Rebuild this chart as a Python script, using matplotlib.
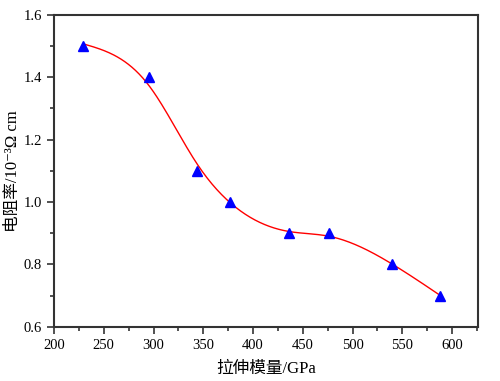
import numpy as np
import matplotlib.pyplot as plt
from matplotlib.ticker import MultipleLocator

plt.rcParams['font.family'] = ['Liberation Serif', 'Noto Sans CJK SC', 'DejaVu Serif']

# measured points
modulus = [229, 295, 344, 377, 436, 476, 540, 588]
resistivity = [1.5, 1.4, 1.1, 1.0, 0.9, 0.9, 0.8, 0.7]


# cubic smoothing spline (Reinsch), used for the red fit line
def smoothing_spline(x, y, lam, num=300):
    x = np.asarray(x, float)
    y = np.asarray(y, float)
    n = len(x)
    h = np.diff(x)
    Q = np.zeros((n, n - 2))
    R = np.zeros((n - 2, n - 2))
    for j in range(1, n - 1):
        Q[j - 1, j - 1] = 1 / h[j - 1]
        Q[j, j - 1] = -1 / h[j - 1] - 1 / h[j]
        Q[j + 1, j - 1] = 1 / h[j]
        R[j - 1, j - 1] = (h[j - 1] + h[j]) / 3
        if j < n - 2:
            R[j - 1, j] = h[j] / 6
            R[j, j - 1] = h[j] / 6
    gam = np.linalg.solve(R + lam * Q.T @ Q, Q.T @ y)
    f = y - lam * Q @ gam
    M = np.concatenate([[0], gam, [0]])
    xs = np.linspace(x[0], x[-1], num)
    idx = np.clip(np.searchsorted(x, xs) - 1, 0, n - 2)
    hi = h[idx]
    a = (x[idx + 1] - xs) / hi
    b = 1 - a
    ys = a * f[idx] + b * f[idx + 1] + ((a ** 3 - a) * M[idx] + (b ** 3 - b) * M[idx + 1]) * hi ** 2 / 6
    return xs, ys


fig = plt.figure(figsize=(5, 3.81), dpi=100)
ax = fig.add_axes([0.108, 0.142, 0.848, 0.819])

xs, ys = smoothing_spline(modulus, resistivity, 5000)
ax.plot(xs, ys, color='red', lw=1.0)

ax.plot(modulus, resistivity, linestyle='none', marker='^', color='blue', markersize=7)

ax.set_xlim(200, 626)
ax.set_ylim(0.6, 1.6)
ax.xaxis.set_major_locator(MultipleLocator(50))
ax.xaxis.set_minor_locator(MultipleLocator(25))
ax.yaxis.set_major_locator(MultipleLocator(0.2))
ax.yaxis.set_minor_locator(MultipleLocator(0.1))
ax.yaxis.set_major_formatter(plt.FormatStrFormatter('%.1f'))
ax.tick_params(which='both', direction='out', labelsize=10.5, width=1.2, color='#333333')
ax.tick_params(which='major', length=5)
ax.tick_params(which='minor', length=3)
for s in ax.spines.values():
    s.set_linewidth(1.5)
    s.set_color('#333333')

ax.set_xlabel('拉伸模量/GPa', fontsize=12, labelpad=7)
ax.set_ylabel('电阻率/10⁻³Ω cm', fontsize=12, labelpad=2)

fig.savefig('out.png')
